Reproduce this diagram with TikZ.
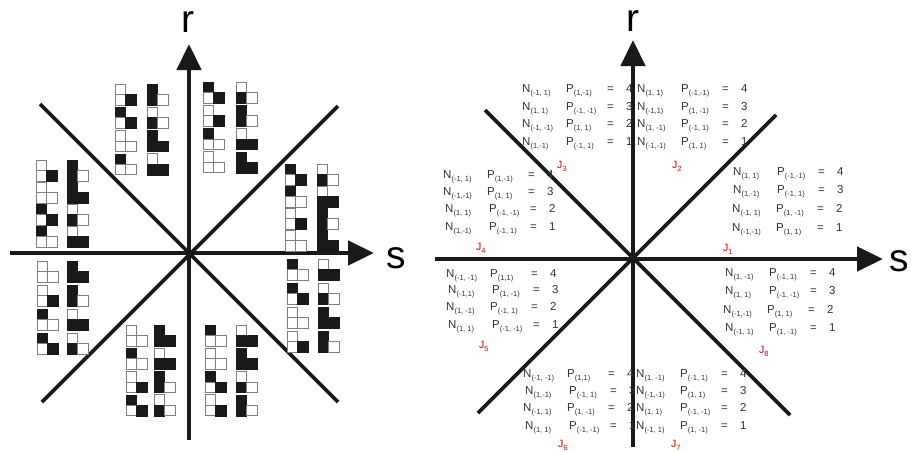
\documentclass[tikz,border=0pt]{standalone}
\usepackage{fontspec}
\setmainfont{Liberation Sans}
\usetikzlibrary{arrows.meta}

\tikzset{
  axis/.style={line width=4.5pt, draw=black!90, -{Triangle[length=26pt,width=24pt]}},
  diag/.style={line width=3.8pt, draw=black!90},
  axlabel/.style={font=\fontsize{39}{39}\selectfont, inner sep=0pt},
  eqtext/.style={anchor=base west, inner sep=0pt, text=black!80, font=\fontsize{11.5}{13}\selectfont},
  jlabel/.style={anchor=base west, inner sep=0pt, text=red!85!black, font=\fontsize{10.5}{12}\selectfont},
  oncell/.style={fill=black!90, draw=black!90, line width=0.8pt},
  offcell/.style={fill=white, draw=black!50, line width=1pt},
}
% lowered small subscript
\newcommand\sbs[1]{\raisebox{-3.8pt}{\fontsize{7.5}{7.5}\selectfont #1}}
% one cell of a tromino: x, y, state
\newcommand\tcell[3]{\ifnum#3=1\relax \filldraw[oncell] (#1,#2) rectangle ++(10.5,10.5);\else \filldraw[offcell] (#1,#2) rectangle ++(10.5,10.5);\fi}
% L tromino: top-left corner, then states of TL, BL, BR
\newcommand\trom[5]{\tcell{#1}{#2}{#3}\tcell{#1}{#2+10.5}{#4}\tcell{#1+10.5}{#2+10.5}{#5}}
% one line of the table: name, x, y, N index, P index, value
\newcommand\eqrow[6]{%
  \node[eqtext] (#1n) at (#2,#3) {N\sbs{#4}};
  \node[eqtext] (#1p) at (#2+44,#3) {P\sbs{#5}};
  \node[eqtext] (#1e) at (#2+85,#3) {=};
  \node[eqtext] (#1v) at (#2+104,#3) {#6};}

\begin{document}
\begin{tikzpicture}[x=1pt, y=-1pt]
  \useasboundingbox (0,0) rectangle (911,451);

  % ---- left panel: tromino states in the eight octants
  \coordinate (lw) at (10,253);  \coordinate (le) at (374,253);
  \coordinate (lb) at (189,440); \coordinate (lt) at (189,44);
  \draw[diag] (40,104) -- (338,402);
  \draw[diag] (338,106) -- (42,402);
  \draw[axis] (lw) -- (le);
  \draw[axis] (lb) -- (lt);
  \node[axlabel] (ls) at (396,258) {s};
  \node[axlabel] (lr) at (188,22) {r};

  \foreach \a/\b/\c [count=\i from 0] in {0/0/1,1/0/1,0/0/0,1/0/0} {\trom{115}{84+23.3*\i}{\a}{\b}{\c}}
  \foreach \a/\b/\c [count=\i from 0] in {1/1/0,0/1/0,1/1/1,0/1/1} {\trom{147}{84+23.3*\i}{\a}{\b}{\c}}
  \foreach \a/\b/\c [count=\i from 0] in {1/0/1,0/0/1,1/0/0,0/0/0} {\trom{203}{82+23.3*\i}{\a}{\b}{\c}}
  \foreach \a/\b/\c [count=\i from 0] in {0/1/0,1/1/0,0/1/1,1/1/1} {\trom{236}{82+23.3*\i}{\a}{\b}{\c}}
  \foreach \a/\b/\c [count=\i from 0] in {0/0/1,0/0/0,1/0/1,1/0/0} {\trom{36}{160+22*\i}{\a}{\b}{\c}}
  \foreach \a/\b/\c [count=\i from 0] in {1/1/0,1/1/1,0/1/0,0/1/1} {\trom{67}{160+22*\i}{\a}{\b}{\c}}
  \foreach \a/\b/\c [count=\i from 0] in {1/0/1,1/0/0,0/0/1,0/0/0} {\trom{285}{164+22*\i}{\a}{\b}{\c}}
  \foreach \a/\b/\c [count=\i from 0] in {0/1/0,0/1/1,1/1/0,1/1/1} {\trom{317}{164+22*\i}{\a}{\b}{\c}}
  \foreach \a/\b/\c [count=\i from 0] in {0/0/0,0/0/1,1/0/0,1/0/1} {\trom{37}{261+24*\i}{\a}{\b}{\c}}
  \foreach \a/\b/\c [count=\i from 0] in {1/1/1,1/1/0,0/1/1,0/1/0} {\trom{67}{261+24*\i}{\a}{\b}{\c}}
  \foreach \a/\b/\c [count=\i from 0] in {1/0/0,1/0/1,0/0/0,0/0/1} {\trom{287}{259+24*\i}{\a}{\b}{\c}}
  \foreach \a/\b/\c [count=\i from 0] in {0/1/1,0/1/0,1/1/1,1/1/0} {\trom{318}{259+24*\i}{\a}{\b}{\c}}
  \foreach \a/\b/\c [count=\i from 0] in {0/0/0,1/0/0,0/0/1,1/0/1} {\trom{126}{325+23.3*\i}{\a}{\b}{\c}}
  \foreach \a/\b/\c [count=\i from 0] in {1/1/1,0/1/1,1/1/0,0/1/0} {\trom{154}{325+23.3*\i}{\a}{\b}{\c}}
  \foreach \a/\b/\c [count=\i from 0] in {1/0/0,0/0/0,1/0/1,0/0/1} {\trom{205}{325+23.3*\i}{\a}{\b}{\c}}
  \foreach \a/\b/\c [count=\i from 0] in {0/1/1,1/1/1,0/1/0,1/1/0} {\trom{236}{325+23.3*\i}{\a}{\b}{\c}}

  % ---- right panel: N/P tables J1..J8
  \coordinate (rw) at (435,259);  \coordinate (re) at (883,259);
  \coordinate (rb) at (633,447);  \coordinate (rt) at (633,40);
  \draw[diag] (485,110) -- (790,415);
  \draw[diag] (776,115) -- (478,413);
  \draw[axis] (rw) -- (re);
  \draw[axis] (rb) -- (rt);
  \node[axlabel] (rs) at (899,261) {s};
  \node[axlabel] (rr) at (633,21) {r};

  % J3
  \eqrow{jc1}{522}{92}{(-1, 1)}{(1,-1)}{4}
  \eqrow{jc2}{522}{110}{(1, 1)}{(-1, -1)}{3}
  \eqrow{jc3}{522}{127}{(-1, -1)}{(1, 1)}{2}
  \eqrow{jc4}{522}{145}{(1,-1)}{(-1, 1)}{1}
  \node[jlabel] (j3) at (557,168) {J\sbs{3}};
  % J2
  \eqrow{jb1}{637}{92}{(1, 1)}{(-1,-1)}{4}
  \eqrow{jb2}{637}{110}{(-1,1)}{(1, -1)}{3}
  \eqrow{jb3}{637}{127}{(1, -1)}{(-1, 1)}{2}
  \eqrow{jb4}{637}{145}{(-1,-1)}{(1, 1)}{1}
  \node[jlabel] (j2) at (672,168) {J\sbs{2}};
  % J4
  \eqrow{jd1}{443}{178}{(-1, 1)}{(1,-1)}{4}
  \eqrow{jd2}{443}{195}{(-1,-1)}{(1, 1)}{3}
  \eqrow{jd3}{445}{212}{(1, 1)}{(-1, -1)}{2}
  \eqrow{jd4}{445}{230}{(1,-1)}{(-1, 1)}{1}
  \node[jlabel] (j4) at (476,250) {J\sbs{4}};
  % J1
  \eqrow{ja1}{733}{175}{(1, 1)}{(-1,-1)}{4}
  \eqrow{ja2}{733}{193}{(1,-1)}{(-1, 1)}{3}
  \eqrow{ja3}{732}{212}{(-1, 1)}{(1, -1)}{2}
  \eqrow{ja4}{732}{231}{(-1,-1)}{(1, 1)}{1}
  \node[jlabel] (j1) at (723,251) {J\sbs{1}};
  % J5
  \eqrow{je1}{446}{277}{(-1, -1)}{(1,1)}{4}
  \eqrow{je2}{448}{293}{(-1,1)}{(1, -1)}{3}
  \eqrow{je3}{446}{310}{(1, -1)}{(-1, 1)}{2}
  \eqrow{je4}{448}{328}{(1, 1)}{(-1, -1)}{1}
  \node[jlabel] (j5) at (479,348) {J\sbs{5}};
  % J8
  \eqrow{jh1}{725}{276}{(1, -1)}{(-1, 1)}{4}
  \eqrow{jh2}{725}{294}{(1, 1)}{(-1, -1)}{3}
  \eqrow{jh3}{723}{313}{(-1,-1)}{(1, 1)}{2}
  \eqrow{jh4}{725}{331}{(-1, 1)}{(1, -1)}{1}
  \node[jlabel] (j8) at (759,353) {J\sbs{8}};
  % J6
  \eqrow{jf1}{523}{377}{(-1, -1)}{(1,1)}{4}
  \eqrow{jf2}{525}{394}{(1,-1)}{(-1, 1)}{3}
  \eqrow{jf3}{523}{411}{(-1, 1)}{(1, -1)}{2}
  \eqrow{jf4}{525}{429}{(1, 1)}{(-1, -1)}{1}
  \node[jlabel] (j6) at (558,447) {J\sbs{6}};
  % J7
  \eqrow{jg1}{636}{377}{(1, -1)}{(-1, 1)}{4}
  \eqrow{jg2}{636}{394}{(-1,-1)}{(1, 1)}{3}
  \eqrow{jg3}{636}{411}{(1, 1)}{(-1, -1)}{2}
  \eqrow{jg4}{636}{429}{(-1, 1)}{(1, -1)}{1}
  \node[jlabel] (j7) at (671,447) {J\sbs{7}};
\end{tikzpicture}
\end{document}
